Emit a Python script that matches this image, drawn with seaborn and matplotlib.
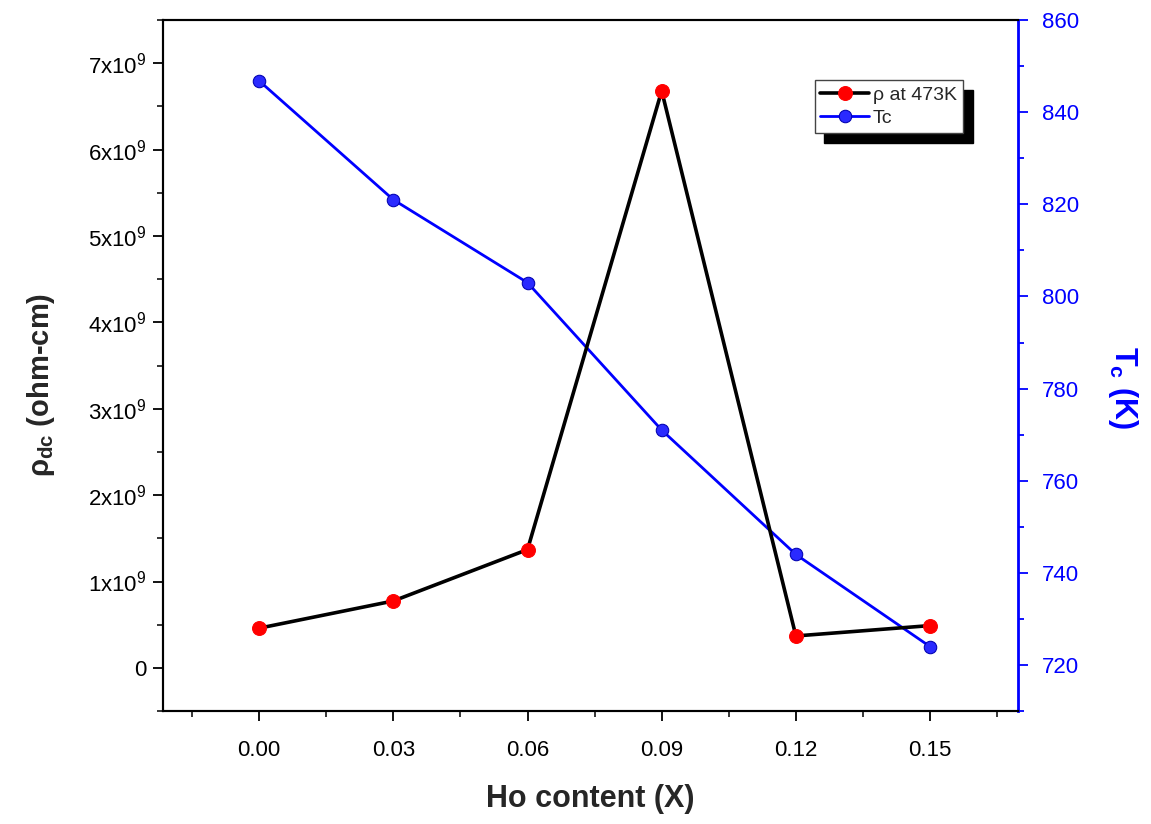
import matplotlib
matplotlib.use("Agg")
import matplotlib.pyplot as plt
import matplotlib.ticker as mticker
import seaborn as sns
import pandas as pd

# data
ho_content = [0.00, 0.03, 0.06, 0.09, 0.12, 0.15]
rho_473k = [0.46e9, 0.775e9, 1.37e9, 6.68e9, 0.37e9, 0.49e9]
tc_kelvin = [846.8, 821.0, 803.0, 771.0, 744.0, 724.0]

df = pd.DataFrame({"x": ho_content, "rho": rho_473k, "tc": tc_kelvin})

sns.set_style("ticks")
plt.rcParams["font.family"] = ["Liberation Sans", "DejaVu Sans"]
plt.rcParams["mathtext.fontset"] = "custom"
plt.rcParams["mathtext.rm"] = "Liberation Sans"
plt.rcParams["mathtext.bf"] = "Liberation Sans:bold"
plt.rcParams["mathtext.it"] = "Liberation Sans:italic"

fig = plt.figure(figsize=(11.51, 8.24), dpi=100)
ax = fig.add_axes([0.1416, 0.137, 0.743, 0.8387])
ax2 = ax.twinx()

# --- resistivity (left axis) ---
sns.lineplot(data=df, x="x", y="rho", ax=ax, color="black", linewidth=2.6,
             marker="o", markersize=10, markerfacecolor="red",
             markeredgecolor="red", legend=False, zorder=3)

# --- Tc (right axis) ---
sns.lineplot(data=df, x="x", y="tc", ax=ax2, color="#0000ff", linewidth=2.0,
             marker="o", markersize=9, markerfacecolor="#2a2aff",
             markeredgecolor="#0000b0", legend=False, zorder=3)

ax.set_xlim(-0.0215, 0.1697)
ax.set_ylim(-0.5e9, 7.5e9)
ax2.set_ylim(710, 860)

ax.xaxis.set_major_locator(mticker.MultipleLocator(0.03))
ax.xaxis.set_minor_locator(mticker.MultipleLocator(0.015))
ax.xaxis.set_major_formatter(mticker.FormatStrFormatter("%.2f"))
ax.yaxis.set_major_locator(mticker.MultipleLocator(1e9))
ax.yaxis.set_minor_locator(mticker.MultipleLocator(0.5e9))


def rho_fmt(v, pos):
    n = int(round(v / 1e9))
    if n == 0:
        return "0"
    return f"{n}x10$^{{9}}$"


ax.yaxis.set_major_formatter(mticker.FuncFormatter(rho_fmt))
ax2.yaxis.set_major_locator(mticker.MultipleLocator(20))
ax2.yaxis.set_minor_locator(mticker.MultipleLocator(10))

for a in (ax, ax2):
    for s in a.spines.values():
        s.set_linewidth(1.5)
        s.set_color("black")
        s.set_visible(True)
ax.spines["right"].set_visible(False)
ax2.spines["right"].set_color("#0000ff")
ax2.spines["right"].set_linewidth(2.0)

ax.tick_params(axis="both", which="major", direction="out", length=7,
               width=1.3, labelsize=16, colors="black", pad=5)
ax.tick_params(axis="both", which="minor", direction="out", length=4,
               width=1.3)
ax.tick_params(axis="x", labelsize=16, pad=14)
ax.tick_params(top=False, right=False, which="both")
ax2.tick_params(axis="y", which="major", direction="out", length=7,
                width=1.3, labelsize=16, colors="#0000ff", pad=10)
ax2.tick_params(axis="y", which="minor", direction="out", length=4,
                width=1.3, colors="#0000ff")

ax.set_xlabel("Ho content (X)", fontsize=22, fontweight="bold", labelpad=16)
ax.set_ylabel(r"ρ$_{\mathbf{dc}}$ (ohm-cm)", fontsize=21, fontweight="bold",
              labelpad=22)
ax.yaxis.label.set_y(0.472)
ax2.set_ylabel(r"T$_{\mathbf{c}}$ (K)", fontsize=22, fontweight="bold",
               color="#0000ff", rotation=270, labelpad=44)
ax2.yaxis.label.set_y(0.469)

# legend combining both axes
h1 = ax.get_lines()[0]
h2 = ax2.get_lines()[0]
leg = ax.legend([h1, h2], ["ρ at 473K", "Tc"], loc="upper left",
                bbox_to_anchor=(0.762, 0.913), fontsize=14, frameon=True,
                fancybox=False, edgecolor="#444444", handlelength=2.5,
                borderpad=0.3, labelspacing=0.3, handletextpad=0.2,
                borderaxespad=0,
                shadow={"ox": 7, "oy": -7, "color": "black", "alpha": 1.0})
leg.get_frame().set_linewidth(1.0)
leg.set_zorder(10)
ax.set_zorder(ax2.get_zorder() + 1)
ax.patch.set_visible(False)

fig.savefig("out.png", dpi=100)
